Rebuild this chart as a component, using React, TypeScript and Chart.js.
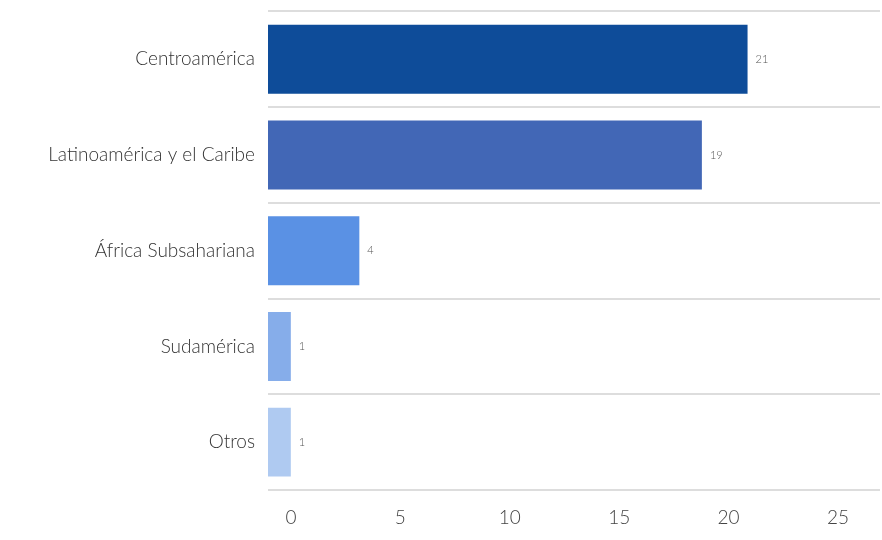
import React, { useEffect, useRef } from "react";
import { Chart, registerables } from "chart.js";

Chart.register(...registerables);

const categories = [
  "Centroamérica",
  "Latinoamérica y el Caribe",
  "África Subsahariana",
  "Sudamérica",
  "Otros",
];
const values = [21, 19, 4, 1, 1];
const barColors = ["#0E4C99", "#4267B6", "#5A91E4", "#86ADEA", "#AFCAF1"];
const xTicks = [0, 5, 10, 15, 20, 25];

const FONT = "Lato, 'Open Sans', sans-serif";

const valueLabels = {
  id: "valueLabels",
  afterDatasetsDraw(chart: any) {
    const ctx = chart.ctx;
    const meta = chart.getDatasetMeta(0);
    ctx.save();
    ctx.font = `300 11px ${FONT}`;
    ctx.fillStyle = "#555";
    ctx.textAlign = "left";
    ctx.textBaseline = "middle";
    meta.data.forEach((bar: any, i: number) => {
      ctx.fillText(String(values[i]), bar.x + 8, bar.y);
    });
    ctx.restore();
  },
};

export default function App() {
  const ref = useRef<HTMLCanvasElement>(null);
  useEffect(() => {
    if (!ref.current) return;
    const chart = new Chart(ref.current, {
      type: "bar",
      data: {
        labels: categories,
        datasets: [
          {
            data: values,
            backgroundColor: barColors,
            borderWidth: 0,
            barPercentage: 0.72,
            categoryPercentage: 1,
          },
        ],
      },
      options: {
        indexAxis: "y",
        animation: false,
        responsive: false,
        maintainAspectRatio: false,
        layout: { padding: { top: 0, right: 2, left: 0, bottom: 0 } },
        plugins: { legend: { display: false }, tooltip: { enabled: false } },
        scales: {
          x: {
            min: 0,
            max: 26.8,
            display: false,
          },
          x2: {
            type: "linear",
            position: "bottom",
            min: -1.05,
            max: 26.92,
            afterBuildTicks(scale: any) {
              scale.ticks = xTicks.map((v) => ({ value: v }));
            },
            afterFit(scale: any) {
              scale.height = 50;
            },
            grid: { display: false },
            border: { display: false },
            ticks: {
              padding: 8,
              color: "#444",
              font: { family: FONT, size: 19, weight: "300" as any },
            },
          },
          y: {
            afterFit(scale: any) {
              scale.width = 268;
            },
            grid: {
              offset: true,
              color: "#dddddd",
              lineWidth: 2,
              drawTicks: false,
            },
            border: { display: false },
            ticks: {
              padding: 13,
              color: "#333",
              font: { family: FONT, size: 19, weight: "300" as any },
            },
          },
        },
      },
      plugins: [valueLabels],
    });
    return () => chart.destroy();
  }, []);
  return (
    <div style={{ position: "fixed", left: 0, top: -13, width: 882, height: 553, background: "#fff" }}>
      <canvas ref={ref} width={882} height={553} style={{ width: 882, height: 553, display: "block" }} />
    </div>
  );
}
